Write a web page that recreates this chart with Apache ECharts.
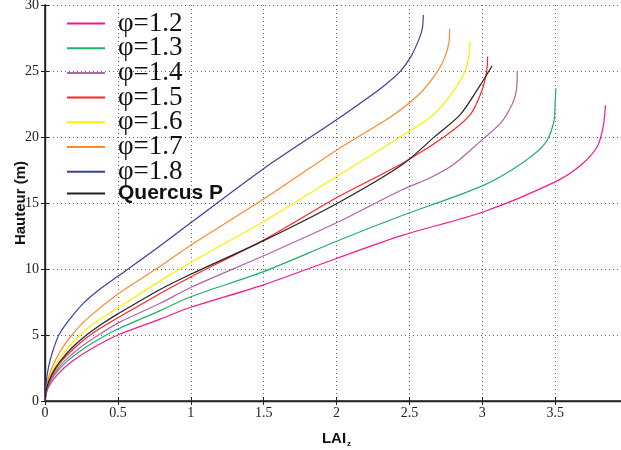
<!DOCTYPE html>
<html>
<head>
<meta charset="utf-8">
<script src="https://cdn.jsdelivr.net/npm/echarts@6/dist/echarts.min.js"></script>
<style>html,body{margin:0;padding:0;background:#fff;}#c{width:621px;height:450px;}</style>
</head>
<body>
<div id="c"></div>
<script>
// [LAI, height] pairs
var phi12 = [[0,0],[0.022,1],[0.085,2],[0.185,3],[0.325,4],[0.5,5.0],[0.79,6.2],[1.0,7.1],[1.5,8.8],[2.0,10.8],[2.45,12.55],[3.0,14.3],[3.5,16.6],[3.68,17.9],[3.79,19.3],[3.83,20.8],[3.845,22.4]];
var phi13 = [[0,0],[0.017,1],[0.067,2],[0.151,3],[0.27,4],[0.42,5],[0.5,5.45],[0.79,6.85],[1.0,7.9],[1.5,9.8],[2.0,12.1],[2.45,14.05],[3.0,16.3],[3.27,18.0],[3.43,19.5],[3.49,21.1],[3.5,22.6],[3.505,23.7]];
var phi14 = [[0,0],[0.015,1],[0.059,2],[0.132,3],[0.235,4],[0.367,5],[0.5,5.9],[0.79,7.4],[1.0,8.6],[1.5,11.0],[2.0,13.5],[2.45,16.0],[2.64,16.9],[2.8,17.9],[3.0,19.8],[3.13,21.1],[3.21,22.6],[3.235,23.6],[3.24,25.0]];
var phi15 = [[0,0],[0.0125,1],[0.05,2],[0.112,3],[0.2,4],[0.31,5],[0.4,5.65],[0.5,6.3],[0.79,8.15],[1.0,9.4],[1.5,12.2],[2.0,15.4],[2.45,18.0],[2.744,20.05],[2.916,21.67],[2.995,23.43],[3.03,24.95],[3.037,26.1]];
var phi16 = [[0,0],[0.0098,1],[0.039,2],[0.088,3],[0.155,4],[0.24,5],[0.35,6.0],[0.5,7.05],[0.79,9.1],[1.0,10.5],[1.5,13.6],[2.0,17.0],[2.45,20.1],[2.664,21.67],[2.8,23.43],[2.88,24.95],[2.909,26.2],[2.916,27.27]];
var phi17 = [[0,0],[0.0075,1],[0.03,2],[0.067,3],[0.118,4],[0.185,5],[0.286,6.2],[0.5,8.1],[0.79,10.2],[1.0,11.8],[1.5,15.3],[2.0,19.0],[2.39,21.67],[2.584,23.43],[2.7,25.08],[2.749,26.2],[2.772,27.2],[2.776,28.2]];
var phi18 = [[0,0],[0.004,1],[0.015,2],[0.033,3],[0.06,4],[0.095,5],[0.17,6.2],[0.263,7.4],[0.38,8.5],[0.5,9.45],[0.746,11.4],[1.0,13.5],[1.5,17.6],[2.0,21.3],[2.242,23.18],[2.333,23.94],[2.436,24.95],[2.516,26.2],[2.568,27.47],[2.589,28.23],[2.596,29.24]];
var quercus = [[0,0],[0.0115,1],[0.046,2],[0.103,3],[0.182,4],[0.285,5],[0.4,5.9],[0.5,6.6],[0.79,8.45],[1.0,9.6],[1.5,12.15],[2.0,14.95],[2.45,17.9],[2.676,20.05],[2.847,21.67],[2.973,23.7],[3.068,25.4]];

var seriesNames = ['φ=1.2','φ=1.3','φ=1.4','φ=1.5','φ=1.6','φ=1.7','φ=1.8','Quercus P'];
var seriesData = [phi12, phi13, phi14, phi15, phi16, phi17, phi18, quercus];
var seriesColors = ['#f2198f','#1fb06a','#b462a8','#ff2424','#ffee00','#ff8a2e','#3b3f9e','#222222'];
var xTicks = {min: 0, max: 4, interval: 0.5};
var yTicks = {min: 0, max: 30, interval: 5};

var chart = echarts.init(document.getElementById('c'), null, {renderer: 'canvas'});
var series = seriesNames.map(function (n, i) {
  return {
    name: n, type: 'line', data: seriesData[i], symbol: 'none',
    smooth: 0.3,
    lineStyle: {color: seriesColors[i], width: 1.2},
    itemStyle: {color: seriesColors[i]}
  };
});
var gridLine = {show: true, lineStyle: {color: '#666', type: [1, 3], width: 1}};
var serif = 'Liberation Serif, Times New Roman, serif';
var sans = 'Liberation Sans, Arial, sans-serif';
chart.setOption({
  animation: false,
  backgroundColor: '#fff',
  grid: {left: 45, right: -7, top: 5, bottom: 49, containLabel: false, outerBoundsMode: 'none'},
  legend: {
    orient: 'vertical', left: 62, top: 5, itemWidth: 38, itemHeight: 2, itemGap: -2.3,
    icon: 'rect',
    data: seriesNames,
    formatter: function (n) { return n === 'Quercus P' ? '{b|' + n + '}' : '{a|' + n + '}'; },
    textStyle: {
      padding: [0, 0, 0, 8],
      rich: {
        a: {fontFamily: serif, fontSize: 27, color: '#111'},
        b: {fontFamily: sans, fontSize: 21, fontWeight: 'bold', color: '#111'}
      }
    }
  },
  xAxis: [{
    type: 'value', min: xTicks.min, max: xTicks.max, interval: xTicks.interval, position: 'bottom',
    name: '{m|LAI}{s|z}', nameLocation: 'middle', nameGap: 29, nameMoveOverlap: false,
    nameTextStyle: {rich: {
      m: {fontFamily: sans, fontWeight: 'bold', fontSize: 15, color: '#111'},
      s: {fontFamily: sans, fontWeight: 'bold', fontSize: 8, color: '#111', padding: [10, 0, 0, 1]}
    }},
    axisLine: {show: true, lineStyle: {color: '#222', width: 1.6}},
    axisTick: {show: true, inside: true, length: 4, lineStyle: {color: '#222'}},
    axisLabel: {fontFamily: serif, fontSize: 14, color: '#222', margin: 5, hideOverlap: false},
    splitLine: gridLine
  }, {
    type: 'value', min: xTicks.min, max: xTicks.max, interval: xTicks.interval, position: 'top',
    axisLine: {show: true, lineStyle: {color: '#222', width: 1.4}},
    axisTick: {show: true, inside: true, length: 4, lineStyle: {color: '#222'}},
    axisLabel: {show: false}, splitLine: {show: false}
  }],
  yAxis: [{
    type: 'value', min: yTicks.min, max: yTicks.max, interval: yTicks.interval, position: 'left',
    name: 'Hauteur (m)', nameLocation: 'middle', nameGap: 17, nameRotate: 90, nameMoveOverlap: false,
    nameTextStyle: {fontFamily: sans, fontWeight: 'bold', fontSize: 15, color: '#111'},
    axisLine: {show: true, lineStyle: {color: '#222', width: 1.6}},
    axisTick: {show: true, inside: true, length: 4, lineStyle: {color: '#222'}},
    axisLabel: {fontFamily: serif, fontSize: 14, color: '#222', margin: 6},
    splitLine: gridLine
  }, {
    type: 'value', min: yTicks.min, max: yTicks.max, interval: yTicks.interval, position: 'right',
    axisLine: {show: true, lineStyle: {color: '#222', width: 1.4}},
    axisTick: {show: true, inside: true, length: 4}, axisLabel: {show: false}, splitLine: {show: false}
  }],
  series: series
});
</script>
</body>
</html>
